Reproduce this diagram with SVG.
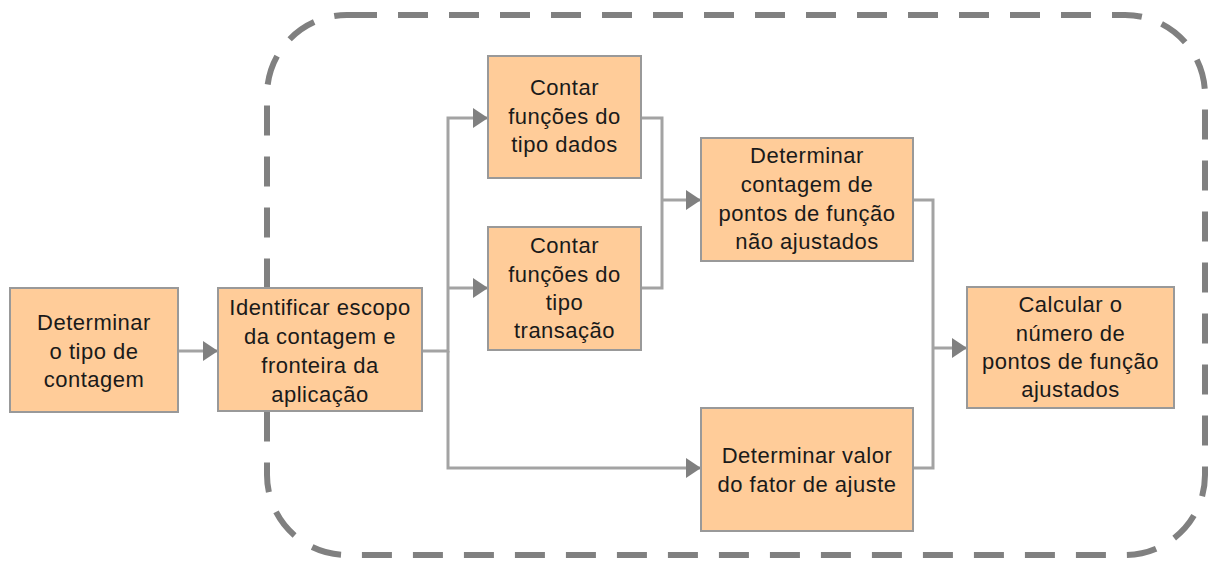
<svg xmlns="http://www.w3.org/2000/svg" width="1211" height="572" viewBox="0 0 1211 572">
<style>
.box{fill:#FFCC99;stroke:#999999;stroke-width:2}
.t{font-family:"Liberation Sans",Arial,sans-serif;font-size:22px;fill:#1a1a1a;text-anchor:middle;letter-spacing:0.5px}
.c{fill:none;stroke:#a3a3a3;stroke-width:3}
.b{fill:none;stroke:#808080;stroke-width:6;stroke-dasharray:30 21}
</style>
<defs>
<marker id="ah" markerUnits="userSpaceOnUse" markerWidth="15" markerHeight="20" refX="15" refY="10" orient="auto">
<path d="M0,0 L15,10 L0,20 z" fill="#808080"/>
</marker>
</defs>
<rect id="boundary" class="b" x="267" y="15" width="938" height="540" rx="80" ry="80"/>
<g id="connectors">
<path class="c" d="M178,351 H218" marker-end="url(#ah)"/>
<path class="c" d="M422,351 H448 V118 H488" marker-end="url(#ah)"/>
<path class="c" d="M448,288 H488" marker-end="url(#ah)"/>
<path class="c" d="M448,351 V468 H701" marker-end="url(#ah)"/>
<path class="c" d="M641,118 H662 V288 H641"/>
<path class="c" d="M662,200 H701" marker-end="url(#ah)"/>
<path class="c" d="M913,200 H933 V468 H913"/>
<path class="c" d="M933,348 H967" marker-end="url(#ah)"/>
</g>
<g id="n1">
<rect class="box" x="10" y="288" width="168" height="124"/>
<text class="t" x="94" y="330">Determinar</text>
<text class="t" x="94" y="358.5">o tipo de</text>
<text class="t" x="94" y="387">contagem</text>
</g>
<g id="n2">
<rect class="box" x="218" y="288" width="204" height="123"/>
<text class="t" x="320" y="315">Identificar escopo</text>
<text class="t" x="320" y="344">da contagem e</text>
<text class="t" x="320" y="373">fronteira da</text>
<text class="t" x="320" y="402">aplicação</text>
</g>
<g id="n3">
<rect class="box" x="488" y="56" width="153" height="122"/>
<text class="t" x="564.5" y="95">Contar</text>
<text class="t" x="564.5" y="123.5">funções do</text>
<text class="t" x="564.5" y="152">tipo dados</text>
</g>
<g id="n4">
<rect class="box" x="488" y="227" width="153" height="123"/>
<text class="t" x="564.5" y="253">Contar</text>
<text class="t" x="564.5" y="282">funções do</text>
<text class="t" x="564.5" y="310">tipo</text>
<text class="t" x="564.5" y="338">transação</text>
</g>
<g id="n5">
<rect class="box" x="701" y="138" width="212" height="123"/>
<text class="t" x="807" y="163">Determinar</text>
<text class="t" x="807" y="192">contagem de</text>
<text class="t" x="807" y="220.5">pontos de função</text>
<text class="t" x="807" y="249">não ajustados</text>
</g>
<g id="n6">
<rect class="box" x="701" y="408" width="212" height="123"/>
<text class="t" x="807" y="463">Determinar valor</text>
<text class="t" x="807" y="492">do fator de ajuste</text>
</g>
<g id="n7">
<rect class="box" x="967" y="287" width="207" height="121"/>
<text class="t" x="1070.5" y="312">Calcular o</text>
<text class="t" x="1070.5" y="340.5">número de</text>
<text class="t" x="1070.5" y="369">pontos de função</text>
<text class="t" x="1070.5" y="397">ajustados</text>
</g>
</svg>
